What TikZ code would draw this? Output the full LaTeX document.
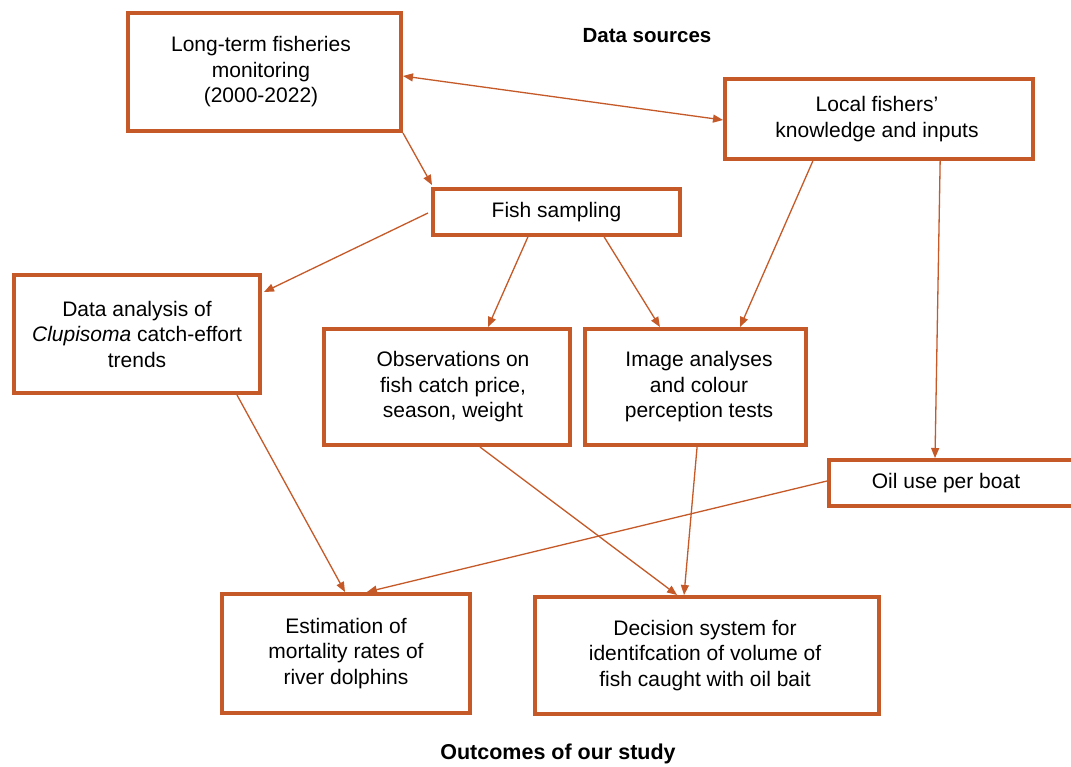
\documentclass[tikz,border=0pt]{standalone}
\usepackage{fontspec}
\setmainfont{Liberation Sans}
\usetikzlibrary{arrows.meta,calc}
\definecolor{boxor}{RGB}{197,90,40}
\begin{document}
\begin{tikzpicture}[x=1pt,y=-1pt,
  box/.style={draw=boxor,line width=4pt,fill=white,align=center,inner sep=0pt,
    font=\fontsize{21}{25.5}\selectfont,text=black},
  conn/.style={draw=boxor,line width=1.3pt,-{Triangle[length=10pt,width=8pt]}},
  biconn/.style={draw=boxor,line width=1.3pt,{Triangle[length=10pt,width=8pt]}-{Triangle[length=10pt,width=8pt]}},
  head/.style={font=\fontsize{20.5}{24}\selectfont\bfseries,text=black}]
\useasboundingbox (0,0) rectangle (1071,766);
\fill[white] (0,0) rectangle (1071,766);
% boxes (minimum sizes are stroke centre lines: outer size minus 4)
\node[box,minimum width=273,minimum height=118] (lt) at (264.5,72)
  {\hspace*{-7pt}Long-term fisheries\\\hspace*{-7pt}monitoring\\\hspace*{-7pt}(2000-2022)};
\node[box,minimum width=308,minimum height=80] (lf) at (879,119)
  {\hspace*{-4pt}Local fishers'\\\hspace*{-4pt}knowledge and inputs};
\node[box,minimum width=247,minimum height=46] (fs) at (556.5,212) {Fish sampling};
\node[box,minimum width=246,minimum height=118] (da) at (137,334)
  {Data analysis of\\\textit{Clupisoma} catch-effort\\trends};
\node[box,minimum width=246,minimum height=116] (ob) at (447,387)
  {\hspace*{12pt}Observations on\\\hspace*{12pt}fish catch price,\\\hspace*{12pt}season, weight};
\node[box,minimum width=221,minimum height=116] (ia) at (695.5,387)
  {\hspace*{7pt}Image analyses\\\hspace*{7pt}and colour\\\hspace*{7pt}perception tests};
\node[box,minimum width=249,minimum height=46] (oil) at (953.5,483)
  {\hspace*{-15pt}Oil use per boat};
\node[box,minimum width=248,minimum height=119] (es) at (346,653.5)
  {Estimation of\\mortality rates of\\river dolphins};
\node[box,minimum width=344,minimum height=117] (de) at (707,655.5)
  {\hspace*{-4pt}Decision system for\\\hspace*{-4pt}identifcation of volume of\\\hspace*{-4pt}fish caught with oil bait};
% headings
\node[head] (hds) at (647,36) {Data sources};
\node[head,font=\fontsize{21.5}{24}\selectfont\bfseries] (hout) at (558,754) {Outcomes of our study};
% connectors
\draw[biconn] ($(lt.east)+(0,4)$) -- ($(lf.west)+(0,1)$);
\draw[conn] (lt.south east) -- ($(fs.north west)+(1,-2)$);
\draw[conn] ($(fs.west)+(-3,1)$) -- ($(da.north east)+(2,19)$);
\draw[conn] ($(fs.south west)!0.386!(fs.south east)$) -- ($(ob.north west)!0.664!(ob.north east)$);
\draw[conn] ($(fs.south west)!0.69!(fs.south east)$) -- ($(ia.north west)!0.342!(ia.north east)$);
\draw[conn] ($(lf.south west)!0.288!(lf.south east)$) -- ($(ia.north west)!0.698!(ia.north east)$);
\draw[conn] ($(lf.south west)!0.696!(lf.south east)$) -- ($(oil.north west)+(108,0)$);
\draw[conn] ($(da.south west)!0.9!(da.south east)$) -- ($(es.north west)!0.496!(es.north east)$);
\draw[conn] ($(ob.south west)!0.632!(ob.south east)$) -- ($(de.north west)!0.414!(de.north east)$);
\draw[conn] ($(ia.south west)!0.507!(ia.south east)$) -- ($(de.north west)!0.434!(de.north east)$);
\draw[conn] ($(oil.west)+(0,-2)$) -- ($(es.north west)!0.583!(es.north east)$);
\end{tikzpicture}
\end{document}
